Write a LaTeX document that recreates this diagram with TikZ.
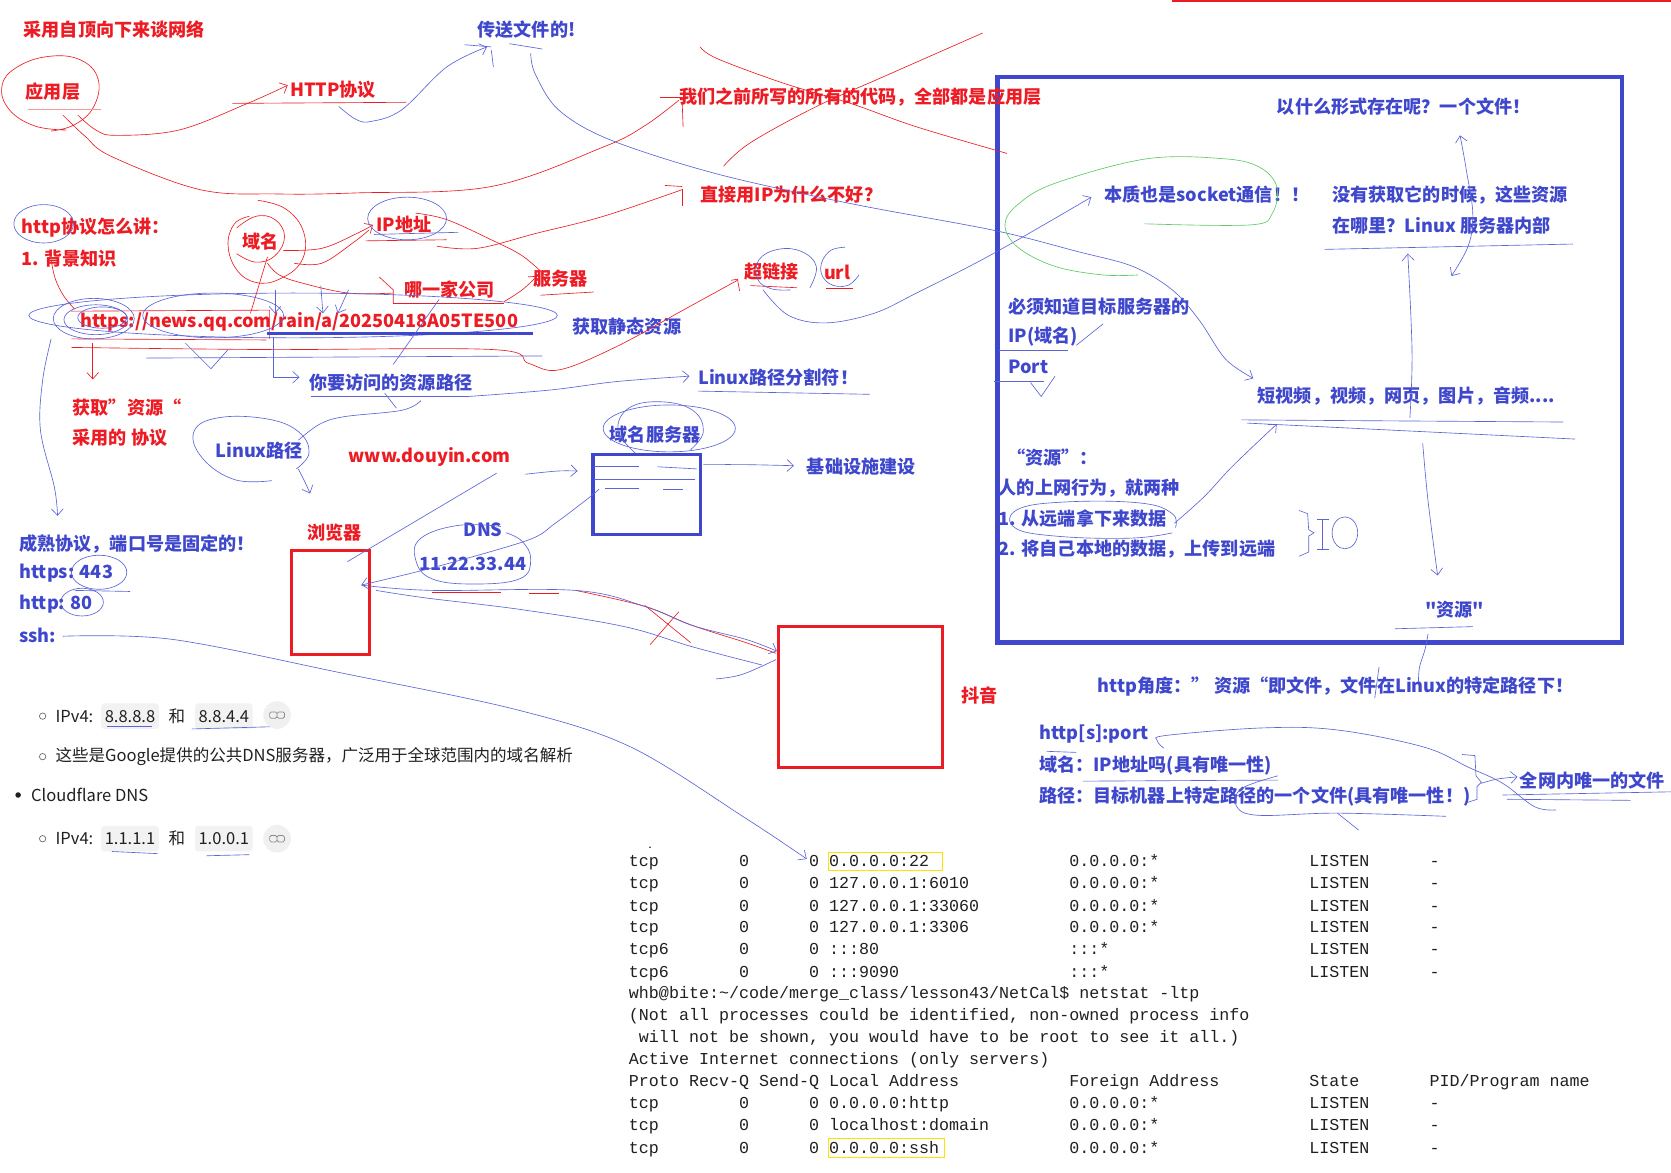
\documentclass[tikz,border=0pt]{standalone}
\usepackage{fontspec}
\setmainfont{Noto Sans CJK SC}[Ligatures=TeXOff]
\newfontfamily\netmono{Liberation Mono}
\usetikzlibrary{arrows.meta}
\definecolor{hr}{RGB}{237,28,36}
\definecolor{hb}{RGB}{63,72,204}
\definecolor{hbl}{RGB}{92,100,216}
\definecolor{hg}{RGB}{96,200,104}
\definecolor{ink}{RGB}{32,32,32}
\newlength\cw
\setlength\cw{9.39pt}
\newcommand\nsrow[7]{\makebox[11\cw][l]{#1}\makebox[7\cw][l]{#2}\makebox[2\cw][l]{#3}\makebox[24\cw][l]{#4}\makebox[24\cw][l]{#5}\makebox[12\cw][l]{#6}#7}
\begin{document}
\begin{tikzpicture}[x=1pt,y=-1pt,
  txt/.style={anchor=west,inner sep=0pt,font=\bfseries\fontsize{17}{20}\selectfont},
  rtxt/.style={txt,text=hr},
  btxt/.style={txt,text=hb},
  shot/.style={anchor=west,inner sep=0pt,font=\fontsize{15.5}{18}\selectfont,text=ink},
  nstxt/.style={anchor=west,inner sep=0pt,font=\netmono\fontsize{15.65}{18}\selectfont,text=ink},
  rs/.style={draw=hr,line width=0.6pt},
  bs/.style={draw=hbl,line width=0.6pt},
  gs/.style={draw=hg,line width=0.6pt},
  tip/.style={-{Straight Barb[length=6pt,width=11pt]}},
  bothtip/.style={{Straight Barb[length=6pt,width=11pt]}-{Straight Barb[length=6pt,width=11pt]}},
  chip/.style={fill=black!5,rounded corners=3pt},
  boxn/.style={anchor=north west,inner sep=0pt,minimum width=#1}]
\useasboundingbox (0,0) rectangle (1568,1100);
\fill[white] (0,0) rectangle (1568,1100);
\draw[hr,line width=1.5pt] (1100,1) -- (1568,1);

% ---------- boxes ----------
\node[boxn=586pt,minimum height=531pt,draw=hb,line width=4pt] (bigbox) at (934,70) {};
\node[boxn=101pt,minimum height=75pt,draw=hb,line width=3pt] (dnsbox) at (555,425) {};
\node[boxn=73pt,minimum height=98pt,draw=hr,line width=3pt] (browser) at (272,515) {};
\node[boxn=154pt,minimum height=133pt,draw=hr,line width=3pt] (douyin) at (729,586) {};

% ---------- red texts ----------
\node[rtxt] (t1) at (22,28) {采用自顶向下来谈网络};
\node[rtxt] (t3) at (24,86) {应用层};
\node[rtxt] (t4) at (272,84) {HTTP协议};
\node[rtxt] (t5) at (637,91) {我们之前所写的所有的代码，全部都是应用层};
\node[rtxt] (t10) at (657,183) {直接用IP为什么不好？};
\node[rtxt] (t11) at (20,214) {http协议怎么讲：};
\node[rtxt] (t12) at (20,243) {1. 背景知识};
\node[rtxt] (t13) at (227,227) {域名};
\node[rtxt] (t14) at (353,211) {IP地址};
\node[rtxt] (t15) at (379,272) {哪一家公司};
\node[rtxt] (t16) at (500,261) {服务器};
\node[rtxt] (t17) at (698,255) {超链接};
\node[rtxt] (t18) at (773,256) {url};
\node[rtxt] (url) at (75,302) {https://news.qq.com/rain/a/20250418A05TE500};
\node[rtxt] (t26) at (68,382) {获取”资源“};
\node[rtxt] (t27) at (68,411) {采用的 协议};
\node[rtxt] (t29) at (327,429) {www.douyin.com};
\node[rtxt] (t36) at (288,500) {浏览器};
\node[rtxt] (t44) at (902,653) {抖音};

% ---------- blue texts ----------
\node[btxt] (t2) at (448,28) {传送文件的!};
\node[btxt] (t6) at (1198,100) {以什么形式存在呢？一个文件！};
\node[btxt] (t7) at (1036,183) {本质也是socket通信！！};
\node[btxt] (t8) at (1250,183) {没有获取它的时候，这些资源};
\node[btxt] (t9) at (1250,212) {在哪里？Linux 服务器内部};
\node[btxt] (t19) at (537,306) {获取静态资源};
\node[btxt] (t20) at (946,288) {必须知道目标服务器的};
\node[btxt] (t21) at (946,316) {IP(域名)};
\node[btxt] (t22) at (946,344) {Port};
\node[btxt] (t23) at (290,359) {你要访问的资源路径};
\node[btxt] (t24) at (655,354) {Linux路径分割符！};
\node[btxt] (t25) at (1180,372) {短视频，视频，网页，图片，音频....};
\node[btxt] (t28) at (202,423) {Linux路径};
\node[btxt] (t30) at (572,408) {域名服务器};
\node[btxt] (t31) at (757,438) {基础设施建设};
\node[btxt] (t32) at (945,429) {“资源”：};
\node[btxt] (t33) at (937,458) {人的上网行为，就两种};
\node[btxt] (t34) at (937,487) {1. 从远端拿下来数据};
\node[btxt] (t35) at (937,515) {2. 将自己本地的数据，上传到远端};
\node[btxt] (t37) at (435,497) {DNS};
\node[btxt] (t38) at (393,529) {11.22.33.44};
\node[btxt] (t39) at (18,510) {成熟协议，端口号是固定的！};
\node[btxt] (t40) at (18,538) {https: 443};
\node[btxt] (t41) at (18,567) {http: 80};
\node[btxt] (t42) at (18,596) {ssh:};
\node[btxt] (t43) at (1337,572) {"资源"};
\node[btxt] (t45) at (1030,644) {http角度：” 资源“即文件，文件在Linux的特定路径下！};
\node[btxt] (t46) at (975,689) {http[s]:port};
\node[btxt] (t47) at (975,718) {域名：IP地址吗(具有唯一性)};
\node[btxt] (t48) at (975,747) {路径：目标机器上特定路径的一个文件(具有唯一性！)};
\node[btxt] (t49) at (1426,732) {全网内唯一的文件};

% ---------- red strokes ----------
\draw[rs] plot[smooth,tension=0.7] coordinates {(62,122) (32,118) (8,102) (2,80) (16,63) (45,53) (75,56) (92,74) (88,100) (70,117) (48,123)};
\draw[draw=hr!45,line width=0.6pt] (26,103) -- (95,103);
\draw[rs,tip] plot[smooth,tension=0.6] coordinates {(73,108) (90,122) (109,127) (168,122) (230,98) (270,80)};
\draw[rs] plot[smooth,tension=0.6] coordinates {(59,108) (80,128) (105,147) (188,178) (260,182) (335,181) (461,175) (566,138) (605,118) (637,94)};
\draw[rs] (619,91) -- (640,91); \draw[rs] (640,93) -- (641,119);
\draw[rs] (218,97) -- (381,96);
\draw[rs] plot[smooth,tension=0.6] coordinates {(657,44) (673,55) (735,78) (798,97) (860,119) (945,144)};
\draw[rs] plot[smooth,tension=0.6] coordinates {(679,156) (704,134) (766,100) (829,72) (922,31)};
\draw[rs] plot[smooth,tension=0.6] coordinates {(410,231) (448,233) (503,219) (566,203) (640,178)};
\draw[rs] (624,174) -- (640,175); \draw[rs] (640,177) -- (640,193);
% domain loops
\draw[rs] plot[smooth,tension=0.7] coordinates {(242,188) (268,196) (285,218) (283,245) (262,262) (240,265) (222,253) (214,230) (220,210) (234,203)};
\draw[rs] plot[smooth,tension=0.7] coordinates {(222,214) (240,203) (258,206) (267,222) (258,240) (240,246) (222,238)};
\draw[rs,tip] plot[smooth,tension=0.6] coordinates {(266,235) (302,233) (335,219) (350,211)};
\draw[rs] plot[smooth,tension=0.6] coordinates {(276,247) (302,247) (331,228) (346,216)};
\draw[rs] (343,226) -- (419,225);
\draw[rs] plot[smooth,tension=0.6] coordinates {(390,200) (419,206) (461,225) (490,240) (511,258)};
\draw[rs] (251,241) -- (235,294);
\draw[rs] plot[smooth,tension=0.6] coordinates {(251,247) (262,258) (285,266) (327,275) (369,275)};
\draw[rs] (356,260) -- (369,272) -- (369,285);
\draw[rs] (369,285) -- (473,285);
\draw[rs,tip] plot[smooth,tension=0.6] coordinates {(473,283) (490,272) (504,259)};
\draw[rs] (507,277) -- (557,274);
\draw[rs] plot[smooth,tension=0.6] coordinates {(48,244) (52,262) (60,278) (70,290)};
\draw[rs] (67,292) -- (253,291) -- (253,318);
\draw[rs] (67,318) -- (250,319);
\draw[rs,tip] (87,322) -- (87,356);
\draw[rs] plot[smooth,tension=0.6] coordinates {(67,326) (250,328) (462,328) (496,341) (525,347) (579,325) (641,291) (692,263)};
\draw[rs] (686,263) -- (692,262) -- (694,273);
\draw[rs] (704,268) -- (748,270);
\draw[rs] (775,271) -- (800,271);
% browser -> douyin red
\draw[rs] (405,556) -- (470,556);
\draw[rs] (496,557) -- (525,557);
\draw[rs] plot[smooth,tension=0.6] coordinates {(540,554) (605,569) (650,587) (700,603) (728,613)};
\draw[rs] (610,605) -- (637,574);
\draw[rs] (605,568) -- (648,603);

% ---------- blue strokes ----------
\draw[bs,tip] plot[smooth,tension=0.6] coordinates {(318,100) (334,112) (348,114) (377,103) (419,63) (457,44)};
\draw[bs] (436,42) -- (461,44);
\draw[bs] (461,47) -- (463,63);
\draw[bs] (478,41) -- (509,46);
\draw[bs,tip] plot[smooth,tension=0.55] coordinates {(498,50) (502,69) (524,103) (572,131) (672,163) (798,191) (932,216) (1011,236) (1063,250) (1100,272) (1125,300) (1150,337) (1176,355)};
\draw[bs,tip] plot[smooth,tension=0.6] coordinates {(716,272) (740,296) (775,303) (820,294) (860,275) (932,238) (1024,185)};
\draw[bs] plot[smooth,tension=0.7] coordinates {(760,270) (766,250) (752,236) (730,234) (712,244) (711,262) (724,271) (742,272)};
\draw[bs] plot[smooth,tension=0.7] coordinates {(793,232) (778,236) (770,252) (778,266) (795,268) (806,258)};
% URL scribbles
\draw[bs] (275,296) ellipse [x radius=248pt,y radius=21pt];
\draw[bs] (88,299) ellipse [x radius=38pt,y radius=19pt];
\draw[bs] (90,300) ellipse [x radius=30pt,y radius=14pt];
\draw[bs] (96,298) ellipse [x radius=23pt,y radius=10pt];
\draw[bs] (200,296) ellipse [x radius=66pt,y radius=21pt];
\draw[hb,line width=3pt] (251,313) -- (500,313);
\draw[bs] (137,336) -- (509,334);
\draw[bs] (174,322) -- (198,346) -- (214,328);
\draw[bs] (369,342) -- (412,281);
\draw[bs,tip] (258,272) -- (258,294);
\draw[bs,tip] (301,268) -- (303,294);
\draw[bs,tip] (327,272) -- (317,294);
\draw[bs,tip] (256,316) -- (256,354) -- (281,354);
\draw[bs] (292,372) -- (440,372);
\draw[bs,tip] plot[smooth,tension=0.6] coordinates {(440,372) (516,366) (579,358) (647,353)};
\draw[bs] (655,367) -- (816,370);
\draw[bs] (41,210) ellipse [x radius=28pt,y radius=18pt];
\draw[bs] (382,205) ellipse [x radius=37pt,y radius=20pt];
\draw[bs] (351,220) -- (430,218);
\draw[bs,tip] plot[smooth,tension=0.6] coordinates {(48,318) (40,357) (38,404) (51,457) (54,484)};
% Linux path
\draw[bs] plot[smooth,tension=0.7] coordinates {(255,451) (220,450) (190,430) (182,405) (205,392) (250,393) (280,405) (290,425) (278,440)};
\draw[bs] plot[smooth,tension=0.6] coordinates {(280,413) (300,398) (323,391) (377,385) (395,376)};
\draw[bs] (361,369) -- (372,383);
\draw[bs,tip] plot[smooth,tension=0.6] coordinates {(280,440) (286,452) (291,463)};
% domain server
\draw[bs] (628,402) ellipse [x radius=62pt,y radius=22pt];
\draw[bs] plot[smooth,tension=0.7] coordinates {(596,425) (580,404) (590,383) (620,377) (650,385) (660,405) (648,422)};
\draw[bs,tip] plot[smooth,tension=0.6] coordinates {(493,445) (523,442) (542,442)};
\draw[bs,tip] plot[smooth,tension=0.6] coordinates {(660,436) (700,436) (745,437)};
\draw[bs] (557,438) -- (600,438);
\draw[bs] (617,438) -- (654,440);
\draw[bs] (557,450) -- (652,450);
\draw[bs] (568,458) -- (600,458);
\draw[bs] (622,459) -- (641,459);
% DNS
\draw[bs] plot[smooth,tension=0.7] coordinates {(470,494) (430,493) (395,505) (390,525) (405,543) (445,548) (488,543) (498,525) (490,508) (475,500)};
\draw[bs,tip] plot[smooth,tension=0.5] coordinates {(562,459) (554,466) (521,491) (495,507) (405,533) (339,549)};
\draw[bs] (326,527) -- (466,444);
% browser <-> douyin
\draw[bs,tip] plot[smooth,tension=0.6] coordinates {(339,549) (405,554) (540,554) (605,569) (650,587) (700,600) (729,611)};
\draw[bs] plot[smooth,tension=0.6] coordinates {(353,554) (399,561) (489,572) (586,588) (650,607) (715,624)};
\draw[bs] plot[smooth,tension=0.6] coordinates {(672,637) (696,633) (728,619)};
% ssh -> netstat
\draw[bs,tip] plot[smooth,tension=0.55] coordinates {(59,597) (162,600) (323,632) (485,666) (592,701) (700,768) (757,806)};
\draw[bs] (93,537) ellipse [x radius=26pt,y radius=16pt];
\draw[bs] (77,565) ellipse [x radius=20pt,y radius=13pt];
\draw[bs] (70,554) -- (122,555);

% ---------- inside big box ----------
\draw[gs] plot[smooth,tension=0.6] coordinates {(1068,258) (1035,258) (990,250) (955,232) (943,211) (955,192) (990,172) (1076,149) (1149,149) (1182,157) (1198,175) (1194,200) (1174,211) (1074,210)};
\draw[bs] (1243,234) -- (1476,229);
\draw[bs,tip] plot[smooth,tension=0.6] coordinates {(1323,392) (1325,330) (1321,238)};
\draw[bs,bothtip] plot[smooth,tension=0.6] coordinates {(1370,127) (1376,160) (1382,200) (1378,230) (1362,259)};
\draw[bs] (1165,394) -- (1467,396);
\draw[bs] (1170,397) -- (1478,412);
\draw[bs,tip] plot[smooth,tension=0.6] coordinates {(1335,416) (1340,470) (1349,540)};
\draw[bs] (1309,590) -- (1382,588);
\draw[bs] plot[smooth,tension=0.6] coordinates {(1340,595) (1337,610) (1332,626) (1331,640)};
\draw[bs,tip] plot[smooth,tension=0.6] coordinates {(1102,491) (1130,466) (1157,437) (1198,398)};
\draw[bs] plot[smooth,tension=0.7] coordinates {(1100,500) (1060,505) (990,503) (952,495) (955,478) (1000,471) (1070,472) (1100,482) (1103,495)};
\draw[bs] (937,329) -- (1002,329);
\draw[bs] (1010,324) -- (1035,304);
\draw[bs] (933,358) -- (980,358);
\draw[bs] (967,359) -- (977,372) -- (990,353);
\draw[bs] (1219,479) -- (1227,482) -- (1228,497) -- (1233,500) -- (1228,503) -- (1228,518) -- (1219,522);
\draw[bs] (1236,487) -- (1247,487); \draw[bs] (1241,487) -- (1241,515); \draw[bs] (1236,515) -- (1247,515);
\draw[bs] (1262,500) ellipse [x radius=12pt,y radius=15pt];

% ---------- http angle area ----------
\draw[bs] (1294,626) -- (1290,655);
\draw[bs] plot[smooth,tension=0.6] coordinates {(1092,702) (1086,695) (1095,690) (1186,683) (1255,685) (1336,701) (1378,720) (1410,735) (1440,757) (1460,760)};
\draw[bs] (1372,708) -- (1384,709) -- (1385,728) -- (1390,734) -- (1386,738) -- (1386,750) -- (1377,753);
\draw[bs,tip] plot[smooth,tension=0.6] coordinates {(1390,735) (1405,731) (1424,729)};
\draw[bs] (1410,746) -- (1568,743);
\draw[bs] (1414,750) -- (1530,751);
\draw[bs] (982,705) -- (1010,706);
\draw[bs] (1016,733) -- (1199,732);
\draw[bs] plot[smooth,tension=0.6] coordinates {(1199,728) (1165,740) (1160,756) (1180,765) (1255,763) (1357,766)};
\draw[bs] (1255,763) -- (1275,779);

% ---------- screenshot text ----------
\draw[ink!70,line width=0.6pt] (40,672) circle [radius=3pt];
\node[shot] (s1) at (52,672) {IPv4:};
\fill[chip] (95,660) rectangle (149,684);
\node[shot,anchor=center] (s2) at (122,672) {8.8.8.8};
\node[shot] (s3) at (158,672) {和};
\fill[chip] (183,660) rectangle (237,684);
\node[shot,anchor=center] (s4) at (210,672) {8.8.4.4};
\fill[black!6] (260,671) circle [radius=13pt];
\draw[black!45,line width=0.7pt,rounded corners=1.5pt] (253,668) rectangle (260,674) (260,668) rectangle (267,674);
\draw[ink!70,line width=0.6pt] (40,710) circle [radius=3pt];
\node[shot] (s5) at (52,710) {这些是Google提供的公共DNS服务器，广泛用于全球范围内的域名解析};
\fill[ink] (17,746) circle [radius=2.6pt];
\node[shot] (s6) at (29,746) {Cloudflare DNS};
\draw[ink!70,line width=0.6pt] (40,787) circle [radius=3pt];
\node[shot] (s7) at (52,787) {IPv4:};
\fill[chip] (95,775) rectangle (149,799);
\node[shot,anchor=center] (s8) at (122,787) {1.1.1.1};
\node[shot] (s9) at (158,787) {和};
\fill[chip] (183,775) rectangle (237,799);
\node[shot,anchor=center] (s10) at (210,787) {1.0.0.1};
\fill[black!6] (260,787) circle [radius=13pt];
\draw[black!45,line width=0.7pt,rounded corners=1.5pt] (253,784) rectangle (260,790) (260,784) rectangle (267,790);
\draw[bs] (100,682) -- (143,682);
\draw[bs] (180,684) -- (253,682);
\draw[bs] (105,799) -- (148,801);
\draw[bs] (194,803) -- (234,802);

% ---------- netstat ----------
\fill[ink] (610,795) circle [radius=0.8pt];
\draw[yellow!85!orange,line width=0.8pt] (777,800) rectangle (884,817);
\draw[yellow!85!orange,line width=0.8pt] (777,1068) rectangle (886,1086);
\node[nstxt] (n1) at (590,809) {\nsrow{tcp}{0}{0}{0.0.0.0:22}{0.0.0.0:*}{LISTEN}{-}};
\node[nstxt] (n2) at (590,830) {\nsrow{tcp}{0}{0}{127.0.0.1:6010}{0.0.0.0:*}{LISTEN}{-}};
\node[nstxt] (n3) at (590,851) {\nsrow{tcp}{0}{0}{127.0.0.1:33060}{0.0.0.0:*}{LISTEN}{-}};
\node[nstxt] (n4) at (590,871) {\nsrow{tcp}{0}{0}{127.0.0.1:3306}{0.0.0.0:*}{LISTEN}{-}};
\node[nstxt] (n5) at (590,892) {\nsrow{tcp6}{0}{0}{:::80}{:::*}{LISTEN}{-}};
\node[nstxt] (n6) at (590,913) {\nsrow{tcp6}{0}{0}{:::9090}{:::*}{LISTEN}{-}};
\node[nstxt] (n7) at (590,933) {whb@bite:\textasciitilde/code/merge\_class/lesson43/NetCal\$ netstat -ltp};
\node[nstxt] (n8) at (590,954) {(Not all processes could be identified, non-owned process info};
\node[nstxt] (n9) at (590,974) {\hspace*{\cw}will not be shown, you would have to be root to see it all.)};
\node[nstxt] (n10) at (590,995) {Active Internet connections (only servers)};
\node[nstxt] (n11) at (590,1015) {\makebox[6\cw][l]{Proto}\makebox[7\cw][l]{Recv-Q}\makebox[7\cw][l]{Send-Q}\makebox[24\cw][l]{Local Address}\makebox[24\cw][l]{Foreign Address}\makebox[12\cw][l]{State}PID/Program name};
\node[nstxt] (n12) at (590,1036) {\nsrow{tcp}{0}{0}{0.0.0.0:http}{0.0.0.0:*}{LISTEN}{-}};
\node[nstxt] (n13) at (590,1057) {\nsrow{tcp}{0}{0}{localhost:domain}{0.0.0.0:*}{LISTEN}{-}};
\node[nstxt] (n14) at (590,1078) {\nsrow{tcp}{0}{0}{0.0.0.0:ssh}{0.0.0.0:*}{LISTEN}{-}};
\end{tikzpicture}
\end{document}
